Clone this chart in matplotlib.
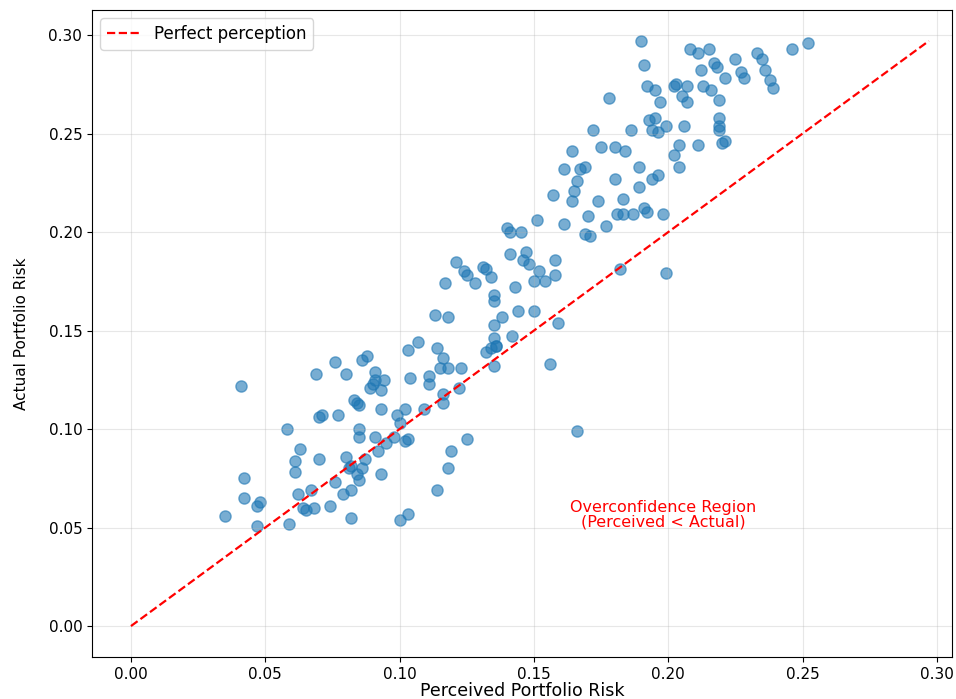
import matplotlib
matplotlib.use("Agg")
import matplotlib.pyplot as plt
import numpy as np

# perceived vs actual portfolio risk
perceived = [
    0.035, 0.041, 0.042, 0.042, 0.047, 0.048, 0.047, 0.058, 0.059, 0.061,
    0.061, 0.063, 0.062, 0.064, 0.065, 0.068, 0.067, 0.069, 0.070, 0.071,
    0.070, 0.074, 0.076, 0.076, 0.077, 0.079, 0.080, 0.080, 0.081, 0.082,
    0.082, 0.083, 0.082, 0.084, 0.085, 0.084, 0.085, 0.085, 0.085, 0.086,
    0.086, 0.087, 0.088, 0.089, 0.090, 0.091, 0.091, 0.091, 0.093, 0.093,
    0.092, 0.093, 0.094, 0.095, 0.098, 0.099, 0.100, 0.100, 0.102, 0.102,
    0.103, 0.103, 0.103, 0.104, 0.107, 0.109, 0.111, 0.111, 0.113, 0.114,
    0.114, 0.115, 0.116, 0.116, 0.116, 0.117, 0.118, 0.118, 0.118, 0.119,
    0.121, 0.122, 0.123, 0.124, 0.125, 0.125, 0.128, 0.131, 0.132, 0.132,
    0.134, 0.134, 0.135, 0.135, 0.135, 0.135, 0.135, 0.136, 0.136, 0.138,
    0.140, 0.141, 0.141, 0.142, 0.143, 0.144, 0.145, 0.146, 0.147, 0.148,
    0.150, 0.150, 0.151, 0.152, 0.154, 0.156, 0.157, 0.158, 0.158, 0.159,
    0.161, 0.161, 0.164, 0.164, 0.165, 0.166, 0.166, 0.167, 0.169, 0.169,
    0.171, 0.170, 0.172, 0.174, 0.175, 0.177, 0.178, 0.180, 0.180, 0.181,
    0.182, 0.183, 0.183, 0.184, 0.186, 0.187, 0.189, 0.189, 0.190, 0.191,
    0.191, 0.192, 0.192, 0.193, 0.194, 0.194, 0.195, 0.195, 0.196, 0.196,
    0.197, 0.198, 0.199, 0.199, 0.202, 0.202, 0.203, 0.204, 0.204, 0.205,
    0.206, 0.207, 0.207, 0.208, 0.211, 0.211, 0.212, 0.213, 0.215, 0.216,
    0.217, 0.218, 0.219, 0.219, 0.219, 0.219, 0.220, 0.221, 0.221, 0.225,
    0.227, 0.228, 0.233, 0.235, 0.236, 0.238, 0.239, 0.246, 0.252,
]
actual = [
    0.056, 0.122, 0.075, 0.065, 0.061, 0.063, 0.051, 0.100, 0.052, 0.084,
    0.078, 0.090, 0.067, 0.060, 0.059, 0.060, 0.069, 0.128, 0.106, 0.107,
    0.085, 0.061, 0.134, 0.073, 0.107, 0.067, 0.128, 0.086, 0.080, 0.081,
    0.069, 0.115, 0.055, 0.113, 0.112, 0.077, 0.100, 0.096, 0.074, 0.135,
    0.080, 0.085, 0.137, 0.121, 0.123, 0.129, 0.096, 0.125, 0.120, 0.110,
    0.089, 0.077, 0.125, 0.093, 0.096, 0.107, 0.103, 0.054, 0.094, 0.110,
    0.095, 0.057, 0.140, 0.126, 0.144, 0.110, 0.127, 0.123, 0.158, 0.069,
    0.141, 0.131, 0.118, 0.113, 0.136, 0.174, 0.131, 0.157, 0.080, 0.089,
    0.185, 0.121, 0.131, 0.180, 0.178, 0.095, 0.174, 0.182, 0.181, 0.139,
    0.141, 0.177, 0.168, 0.165, 0.132, 0.153, 0.146, 0.142, 0.142, 0.157,
    0.202, 0.200, 0.189, 0.147, 0.172, 0.160, 0.200, 0.186, 0.190, 0.184,
    0.175, 0.160, 0.206, 0.180, 0.175, 0.133, 0.219, 0.186, 0.178, 0.154,
    0.204, 0.232, 0.241, 0.216, 0.221, 0.226, 0.099, 0.232, 0.233, 0.199,
    0.198, 0.208, 0.252, 0.216, 0.243, 0.203, 0.268, 0.227, 0.243, 0.209,
    0.181, 0.217, 0.209, 0.241, 0.252, 0.209, 0.223, 0.233, 0.297, 0.285,
    0.212, 0.210, 0.274, 0.257, 0.227, 0.252, 0.272, 0.258, 0.229, 0.251,
    0.266, 0.209, 0.179, 0.254, 0.274, 0.239, 0.275, 0.244, 0.233, 0.269,
    0.254, 0.266, 0.274, 0.293, 0.244, 0.291, 0.282, 0.274, 0.293, 0.272,
    0.286, 0.284, 0.267, 0.258, 0.254, 0.252, 0.245, 0.246, 0.278, 0.288,
    0.281, 0.278, 0.291, 0.288, 0.282, 0.277, 0.273, 0.293, 0.296,
]

perceived = np.array(perceived)
actual = np.array(actual)
top = max(perceived.max(), actual.max())

fig = plt.figure(figsize=(9.56, 6.99), dpi=100)
ax = fig.add_axes([92/956, 42/699, 860/956, 647/699])

ax.scatter(perceived, actual, s=65, alpha=0.6, color="#1f77b4")
ax.plot([0, top], [0, top], "r--", linewidth=1.6, label="Perfect perception")

ax.text(0.198, 0.049, "Overconfidence Region\n(Perceived < Actual)",
        color="red", fontsize=11.5, ha="center", va="bottom", linespacing=1.0)

ax.set_xlim(-0.0145, 0.3056)
ax.set_ylim(-0.0157, 0.3127)
ax.set_xticks(np.arange(0, 0.31, 0.05))
ax.set_yticks(np.arange(0, 0.31, 0.05))
ax.tick_params(labelsize=11)
ax.set_xlabel("Perceived Portfolio Risk", fontsize=12.5, labelpad=0)
ax.set_ylabel("Actual Portfolio Risk", fontsize=11, labelpad=14)
ax.grid(True, alpha=0.3)
ax.legend(loc="upper left", fontsize=12)

plt.savefig("out.png", dpi=100)
